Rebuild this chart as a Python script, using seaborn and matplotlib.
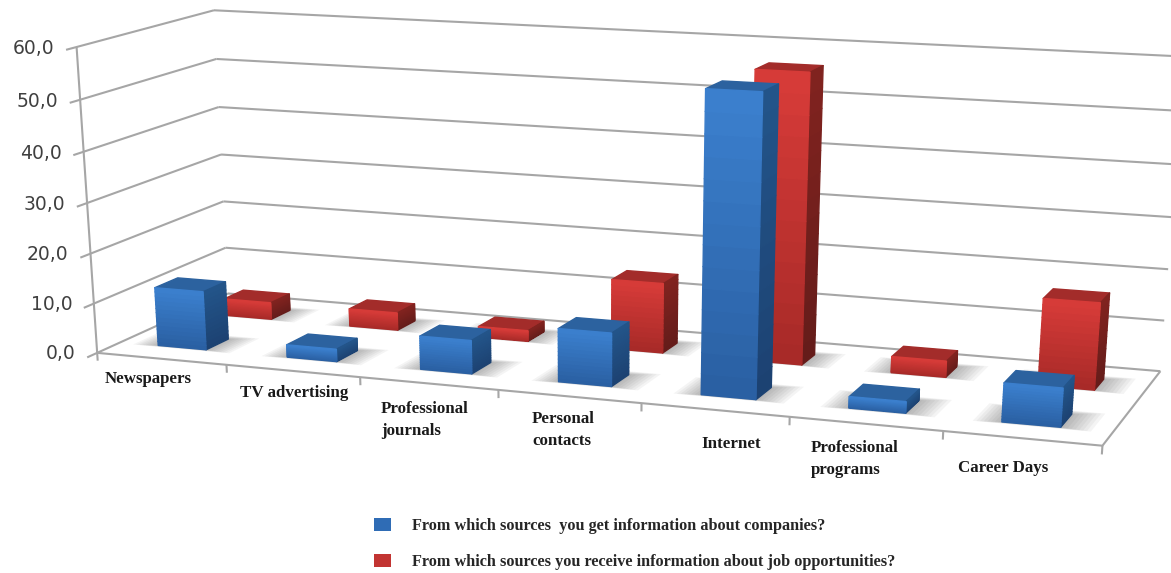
import numpy as np
import matplotlib
matplotlib.use("Agg")
import matplotlib.pyplot as plt
from matplotlib.patches import Patch
from mpl_toolkits.mplot3d import proj3d
from mpl_toolkits.mplot3d.art3d import Poly3DCollection, Line3DCollection
import seaborn as sns

# ---------- data ----------
categories = ["Newspapers", "TV advertising", "Professional\njournals",
              "Personal\ncontacts", "Internet", "Professional\nprograms", "Career Days"]
companies = [11.8, 2.5, 6.6, 10.4, 57.0, 2.2, 7.3]
jobs = [3.5, 3.6, 2.2, 14.0, 56.5, 3.2, 16.8]
series_names = ["From which sources  you get information about companies?",
                "From which sources you receive information about job opportunities?"]
z_ticks = [0, 10, 20, 30, 40, 50, 60]
z_labels = ["0,0", "10,0", "20,0", "30,0", "40,0", "50,0", "60,0"]

# ---------- layout (camera calibration and label anchors, in image pixels) ----------
W, H = 1171, 573
camera_world = np.array([[0, 0, 0], [1, 0, 0], [2, 0, 0], [3, 0, 0], [4, 0, 0], [5, 0, 0], [6, 0, 0], [7, 0, 0],
                         [0, 0, 10], [0, 0, 20], [0, 0, 30], [0, 0, 40], [0, 0, 50], [0, 0, 60],
                         [0, 1, 0], [0, 1, 10], [0, 1, 20], [0, 1, 30], [0, 1, 40], [0, 1, 50], [0, 1, 60],
                         [7, 1, 0], [7, 1, 10], [7, 1, 20], [7, 1, 60]], float)
camera_image = np.array([[98, 352], [227, 367], [359, 378], [498, 392], [641, 405], [789, 418], [943, 432], [1103, 443],
                         [95, 302], [91, 252], [87, 202], [83, 151], [80, 99], [77, 47],
                         [230, 295], [225, 248], [222, 201], [220, 154], [218, 107], [216, 59], [215, 11],
                         [1161, 369], [1164, 320], [1168, 268], [1185, 59]], float)
label_anchor = [(105, 379), (240, 393), (381, 420), (532, 430), (701, 444), (811, 459), (958, 468)]


def fit_camera(world, image):
    weights = np.ones(len(world))
    for _ in range(15):
        rows, rhs = [], []
        for (x, y, z), (u, v), s in zip(world, image, weights):
            rows.append(np.array([x, y, z, 1, 0, 0, 0, 0, -u * x, -u * y, -u * z]) / s)
            rhs.append(u / s)
            rows.append(np.array([0, 0, 0, 0, x, y, z, 1, -v * x, -v * y, -v * z]) / s)
            rhs.append(v / s)
        p = np.linalg.lstsq(np.array(rows), np.array(rhs), rcond=None)[0]
        weights = world @ p[8:11] + 1.0
    return np.array([p[:4], p[4:8], [-0.03, 0.2, -0.002, 0.5], [p[8], p[9], p[10], 1.0]])


sns.set_theme(style="white")
plt.rcParams["font.family"] = ["Liberation Serif", "DejaVu Sans"]

fig = plt.figure(figsize=(W / 100, H / 100), dpi=100, facecolor="white")
ax = fig.add_axes([0, 0, 1, 1], projection="3d")
M = fit_camera(camera_world, camera_image)
ax.get_proj = lambda: M
ax.apply_aspect = lambda position=None: None
ax.computed_zorder = False
ax.set_axis_off()

segments = []
for z in z_ticks:
    segments.append([(0, -0.07, z), (0, 1, z)])
    segments.append([(0, 1, z), (7, 1, z)])
segments.append([(0, 0, 0), (0, 0, 60)])
segments.append([(0, 0, 0), (7, 0, 0), (7, 1, 0)])
for k in range(8):
    segments.append([(k, 0, 0), (k, 0, -1.6)])
ax.add_collection3d(Line3DCollection(segments, colors="#a6a6a6", linewidths=1.5, zorder=1), autolim=False)

for z, s in zip(z_ticks, z_labels):
    px, py, _ = proj3d.proj_transform(-0.17, 0, z, M)
    ax.text2D(px, py + 3, s, transform=ax.transData, ha="right", va="center", family="DejaVu Sans",
              fontsize=13.5, color="#404040")

for name, (px, py) in zip(categories, label_anchor):
    ax.text2D(px, py, name, transform=ax.transData, ha="left", va="center", fontsize=12.2,
              fontweight="bold", color="#1a1a1a", linespacing=1.45)

bar_dx = 0.375
N_SLICES = 14


def draw_series(values, x0, y0, dy, front_top, front_bottom, side_top, side_bottom, top_color, zorder):
    pos = np.arange(len(values)) + x0
    # soft floor shadow
    for grow in np.linspace(0.02, 0.18, 8):
        polys = [[(p - grow, y0 - grow * 0.1, 0), (p + bar_dx + grow * 1.1, y0 - grow * 0.1, 0),
                  (p + bar_dx + grow * 1.1, y0 + dy + grow * 0.25, 0), (p - grow, y0 + dy + grow * 0.25, 0)]
                 for p in pos]
        ax.add_collection3d(Poly3DCollection(polys, facecolors=(0.3, 0.3, 0.3, 0.06),
                                             edgecolors="none", zorder=zorder - 1), autolim=False)
    front = sns.blend_palette([front_bottom, front_top], N_SLICES)
    side = sns.blend_palette([side_bottom, side_top], N_SLICES)
    clear = (0, 0, 0, 0)
    xs, zs, dzs, colors = [], [], [], []
    for p, v in zip(pos, values):
        for i in range(N_SLICES):
            xs.append(p)
            zs.append(v * i / N_SLICES)
            dzs.append(v / N_SLICES)
            lid = top_color if i == N_SLICES - 1 else clear
            colors += [clear, lid, front[i], clear, clear, side[i]]
    colors = [matplotlib.colors.to_rgba(c) for c in colors]
    ax.bar3d(xs, [y0] * len(xs), zs, bar_dx, dy, dzs, color=colors, edgecolors=colors,
             linewidth=1.0, shade=False, zorder=zorder)


draw_series(jobs, 0.31, 0.67, 0.155, "#d63b38", "#a82a28", "#80231f", "#651c1a", "#a32c2a", 4)
draw_series(companies, 0.295, 0.17, 0.17, "#3b7fcd", "#2a60a3", "#235489", "#1c4272", "#2c629f", 6)

handles = [Patch(facecolor="#2f6cb5", edgecolor="none"), Patch(facecolor="#c23432", edgecolor="none")]
ax.legend(handles, series_names, loc="upper left", bbox_to_anchor=(374 / W, 1 - 518 / H),
          bbox_transform=fig.transFigure, frameon=False, handlelength=1.05,
          handleheight=0.9, handletextpad=1.3, labelspacing=1.2, borderpad=0, borderaxespad=0,
          prop=dict(family="Liberation Serif", weight="bold", size=11.7))

ax.viewLim.intervalx = (0, W)
ax.viewLim.intervaly = (H, 0)
fig.savefig("out.png", dpi=100, facecolor="white")
